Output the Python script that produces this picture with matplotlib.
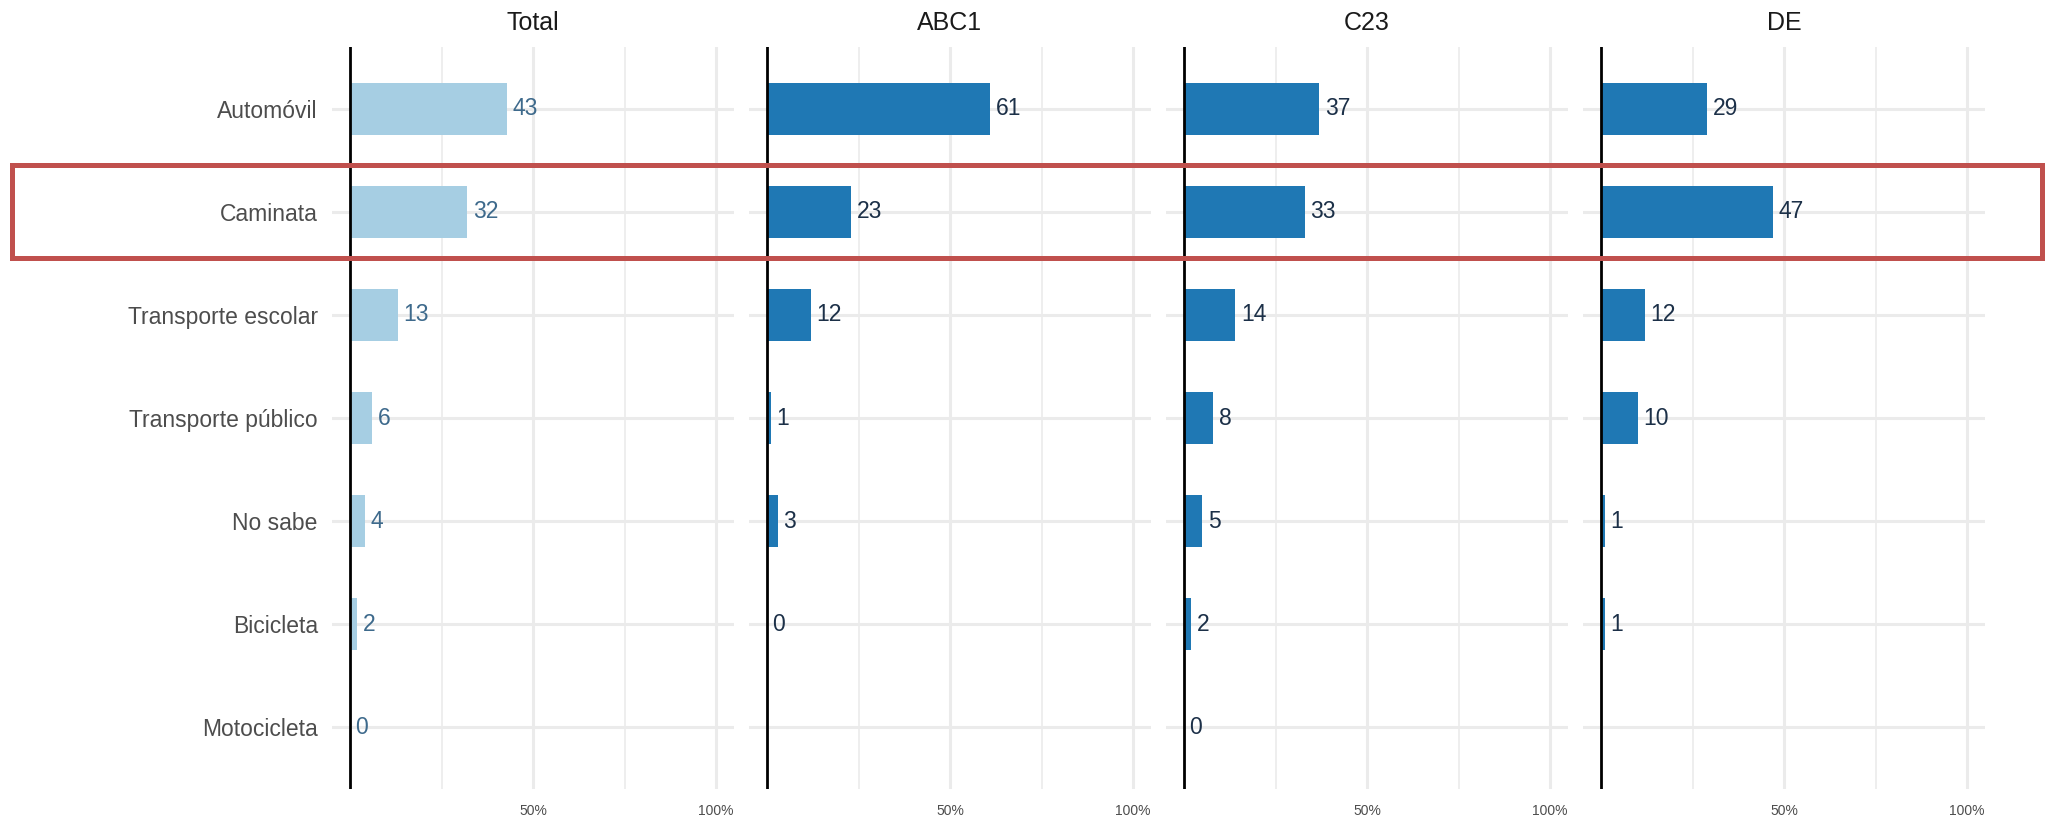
import matplotlib
matplotlib.use("Agg")
import matplotlib.pyplot as plt
from matplotlib.patches import Rectangle
import numpy as np

plt.rcParams['font.family'] = ['Liberation Sans', 'DejaVu Sans']

categories = ["Automóvil", "Caminata", "Transporte escolar", "Transporte público",
              "No sabe", "Bicicleta", "Motocicleta"]
panels = ["Total", "ABC1", "C23", "DE"]
total = [43, 32, 13, 6, 4, 2, 0]
abc1 = [61, 23, 12, 1, 3, 0, None]
c23 = [37, 33, 14, 8, 5, 2, 0]
de = [29, 47, 12, 10, 1, 1, None]
series = [total, abc1, c23, de]
tick_values = [0, 50, 100]
tick_labels = ["", "50%", "100%"]
minor_values = [25, 75]

W, H = 2048, 822
fig = plt.figure(figsize=(W / 100, H / 100), dpi=100)

light = "#a6cee3"
dark = "#1f78b4"
grid_col = "#ebebeb"

ax_bottom = (H - 789) / H
ax_height = (789 - 47) / H
lefts = [331.7, 748.7, 1165.7, 1582.7]
ax_w = 402.6 / W

n = len(categories)
ypos = np.arange(n)[::-1] + 1  # Automóvil at top

for i, (name, vals) in enumerate(zip(panels, series)):
    ax = fig.add_axes([lefts[i] / W, ax_bottom, ax_w, ax_height])
    ax.set_xlim(-5, 105)
    ax.set_ylim(0.4, n + 0.6)
    for s in ax.spines.values():
        s.set_visible(False)
    # grid
    for y in ypos:
        ax.axhline(y, color=grid_col, lw=2.2, zorder=0)
    for xv in [50, 100]:
        ax.axvline(xv, color=grid_col, lw=2.2, zorder=0)
    for xv in minor_values:
        ax.axvline(xv, color=grid_col, lw=1.2, zorder=0)
    col = light if i == 0 else dark
    lab_col = "#3e6a8c" if i == 0 else "#1c3048"
    for y, v in zip(ypos, vals):
        if v is None:
            continue
        ax.barh(y, v, height=0.5, color=col, zorder=2)
        ax.annotate(str(v), xy=(v, y), xytext=(4, 0), textcoords="offset points",
                    ha="left", va="center", fontsize=16.5, color=lab_col, zorder=4)
    ax.axvline(0, color="black", lw=2, zorder=3)
    ax.set_xticks(tick_values)
    ax.set_xticklabels(tick_labels, fontsize=10, color="#4d4d4d")
    ax.tick_params(axis="x", length=0, pad=11)
    if i == 0:
        ax.set_yticks(ypos)
        ax.set_yticklabels(categories, fontsize=16.5, color="#4d4d4d")
        ax.tick_params(axis="y", length=0, pad=10)
    else:
        ax.set_yticks([])
    ax.set_title(name, fontsize=18, color="#1a1a1a", pad=12)

# highlight rectangle
rect = Rectangle((12 / W, (H - 258) / H), (2042 - 12) / W, (258 - 165) / H,
                 transform=fig.transFigure, fill=False, edgecolor="#c0504d",
                 linewidth=3.6, zorder=10)
fig.patches.append(rect)

fig.savefig("out.png", dpi=100, facecolor="white")
